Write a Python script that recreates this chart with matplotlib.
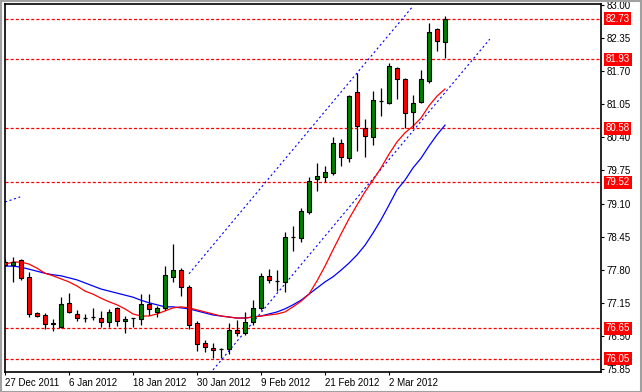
import matplotlib
matplotlib.use('Agg')
import matplotlib.pyplot as plt

plt.rcParams['font.family'] = ['Liberation Sans', 'DejaVu Sans']
plt.rcParams['lines.scale_dashes'] = False

# daily bars, 27 Dec 2011 .. 13 Mar 2012
opens = [77.95, 77.89, 77.99, 77.66, 76.95, 76.91, 76.75, 76.67, 77.15, 76.93,
         76.85, 76.87, 76.85, 76.77, 77.05, 76.79, 76.85, 76.83, 77.13, 76.97,
         77.05, 77.66, 77.79, 77.46, 76.75, 76.36, 76.26, 76.24, 76.24, 76.62,
         76.56, 76.77, 77.05, 77.68, 77.58, 77.56, 78.44, 78.42, 78.93, 79.58,
         79.62, 79.70, 80.29, 79.99, 81.29, 80.58, 80.41, 81.11, 81.07, 81.76,
         81.55, 80.90, 81.09, 81.51, 82.53, 82.27]
highs = [78.01, 78.05, 78.01, 77.75, 76.97, 76.95, 76.83, 77.26, 77.34, 77.01,
         76.93, 77.05, 76.99, 77.03, 77.07, 76.89, 76.86, 77.32, 77.32, 77.09,
         77.87, 78.30, 77.83, 77.50, 76.79, 76.42, 76.36, 76.26, 76.75, 76.81,
         76.97, 77.20, 77.73, 77.81, 77.79, 78.54, 78.66, 79.01, 79.62, 79.90,
         79.84, 80.41, 80.37, 81.23, 81.66, 80.76, 81.31, 81.37, 81.86, 81.78,
         81.57, 81.23, 81.72, 82.65, 82.55, 82.78]
lows = [77.87, 77.56, 77.60, 76.87, 76.87, 76.63, 76.60, 76.65, 76.95, 76.79,
        76.77, 76.81, 76.67, 76.67, 76.69, 76.56, 76.67, 76.71, 76.91, 76.87,
        77.01, 77.56, 77.28, 76.63, 76.20, 76.18, 76.07, 76.07, 76.14, 76.50,
        76.52, 76.71, 77.01, 77.54, 77.38, 77.36, 78.17, 78.34, 78.89, 79.35,
        79.52, 79.66, 79.84, 79.92, 80.13, 80.01, 80.25, 80.82, 81.05, 81.15,
        80.58, 80.58, 81.07, 81.47, 82.10, 81.96]
closes = [77.89, 77.95, 77.64, 76.93, 76.89, 76.73, 76.73, 77.13, 76.97, 76.85,
          76.85, 76.87, 76.77, 76.97, 76.79, 76.83, 76.85, 77.13, 77.03, 77.05,
          77.70, 77.79, 77.46, 76.71, 76.34, 76.28, 76.22, 76.24, 76.62, 76.56,
          76.77, 77.05, 77.68, 77.60, 77.58, 78.44, 78.44, 78.95, 79.54, 79.64,
          79.72, 80.29, 80.01, 81.21, 80.62, 80.43, 81.13, 81.11, 81.80, 81.55,
          80.88, 81.07, 81.55, 82.47, 82.30, 82.73]

# moving averages
ma_fast = [77.91, 77.95, 77.95, 77.91, 77.83, 77.73, 77.68, 77.62, 77.56, 77.48,
           77.38, 77.32, 77.24, 77.17, 77.11, 77.03, 76.93, 76.89, 76.89, 76.93,
           76.99, 77.05, 77.07, 77.05, 77.01, 76.97, 76.93, 76.89, 76.87, 76.85,
           76.85, 76.87, 76.89, 76.91, 76.93, 76.97, 77.07, 77.18, 77.32, 77.58,
           77.87, 78.19, 78.50, 78.80, 79.07, 79.33, 79.56, 79.80, 80.07, 80.31,
           80.49, 80.62, 80.78, 81.02, 81.21, 81.35]
ma_slow = [77.87, 77.87, 77.85, 77.81, 77.77, 77.73, 77.70, 77.68, 77.64, 77.60,
           77.54, 77.48, 77.42, 77.38, 77.34, 77.30, 77.26, 77.20, 77.15, 77.11,
           77.07, 77.07, 77.05, 77.03, 76.99, 76.95, 76.91, 76.89, 76.87, 76.85,
           76.85, 76.87, 76.89, 76.93, 76.97, 77.03, 77.11, 77.20, 77.32, 77.44,
           77.56, 77.66, 77.79, 77.93, 78.09, 78.28, 78.52, 78.78, 79.07, 79.37,
           79.56, 79.80, 79.99, 80.23, 80.45, 80.64]

levels = [82.73, 81.93, 80.58, 79.52, 76.65, 76.05]
y_ticks = [83.00, 82.35, 81.70, 81.05, 80.40, 79.75, 79.10, 78.45, 77.80, 77.15, 76.50, 75.85]
date_labels = ['27 Dec 2011', '6 Jan 2012', '18 Jan 2012', '30 Jan 2012',
               '9 Feb 2012', '21 Feb 2012', '2 Mar 2012']
date_step = 8

# trend channel (bar index, price)
chan_upper = [(23.0, 77.72), (50.9, 82.96)]
chan_lower = [(26.0, 75.83), (60.6, 82.33)]
stub_line = [(0.0, 79.13), (1.9, 79.23)]

W, H = 642, 392
fig = plt.figure(figsize=(W / 100, H / 100), dpi=100)
fig.patch.set_facecolor('white')
ax = fig.add_axes([5 / W, 1 - 372 / H, 596 / W, 368 / H])

# levels
for lv in levels:
    ax.axhline(lv, color='#ff0000', lw=0.9, linestyle=(0, (2.2, 1.5)), zorder=1)

# channel
for seg in (chan_upper, chan_lower, stub_line):
    ax.plot([p[0] for p in seg], [p[1] for p in seg], color='#0000ff', lw=0.8,
            linestyle=(0, (1.5, 1.9)), zorder=2)

x = list(range(len(opens)))
ax.plot(x, ma_slow, color='#0000ff', lw=0.9, zorder=3)
ax.plot(x, ma_fast, color='#ff0000', lw=0.9, zorder=3)

bw = 0.62
for i in x:
    o, h, l, c = opens[i], highs[i], lows[i], closes[i]
    ax.vlines(i, l, h, color='black', lw=0.9, zorder=4)
    if c == o:
        ax.hlines(c, i - bw / 2, i + bw / 2, color='black', lw=0.9, zorder=5)
    else:
        col = '#008000' if c > o else '#ff0000'
        ax.bar(i, abs(c - o), bottom=min(o, c), width=bw, color=col,
               edgecolor='black', linewidth=0.8, zorder=5)

ax.set_xlim(0, 74.5)
ax.set_ylim(75.79, 83.02)

ax.yaxis.tick_right()
ax.set_yticks(y_ticks)
ax.set_yticklabels([f'{v:.2f}' for v in y_ticks])
ax.tick_params(axis='y', length=2.5, width=0.8, pad=1.5, labelsize=7)
ticks_x = [k * date_step for k in range(len(date_labels))]
ax.set_xticks(ticks_x)
ax.set_xticklabels(date_labels, ha='left')
ax.tick_params(axis='x', length=2.5, width=0.8, pad=1.5, labelsize=7)

for s in ax.spines.values():
    s.set_linewidth(1.2)

# level labels on the price axis
for lv in levels:
    ax.annotate(f'{lv:.2f}', xy=(1, lv), xycoords=('axes fraction', 'data'),
                xytext=(3.5, 0), textcoords='offset points', va='center', ha='left',
                fontsize=7, color='white', zorder=10, annotation_clip=False,
                bbox=dict(boxstyle='square,pad=0.15', fc='#ff0000', ec='none'))

fig.patches.append(plt.Rectangle((0.5 / W, 0.5 / H), 1 - 1.5 / W, 1 - 1.5 / H,
                                 transform=fig.transFigure, fill=False,
                                 edgecolor='#a0a0a0', lw=1.5))

fig.savefig('out.png', dpi=100)
